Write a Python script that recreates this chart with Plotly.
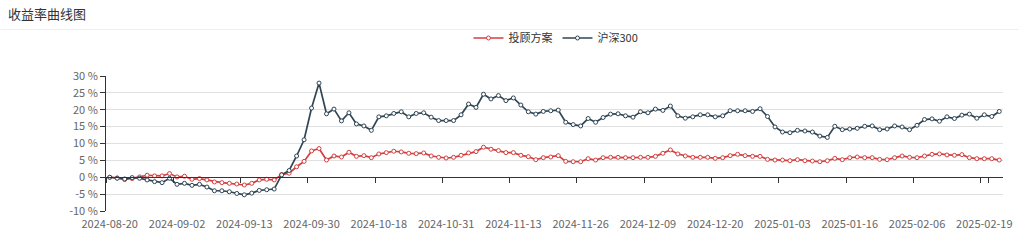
import plotly.graph_objects as go

# ---- data -------------------------------------------------------------
dates = [
    "2024-08-20", "2024-08-21", "2024-08-22", "2024-08-23", "2024-08-26", "2024-08-27", "2024-08-28", "2024-08-29", "2024-08-30",
    "2024-09-02", "2024-09-03", "2024-09-04", "2024-09-05", "2024-09-06", "2024-09-09", "2024-09-10", "2024-09-11", "2024-09-12",
    "2024-09-13", "2024-09-18", "2024-09-19", "2024-09-20", "2024-09-23", "2024-09-24", "2024-09-25", "2024-09-26", "2024-09-27",
    "2024-09-30", "2024-10-08", "2024-10-09", "2024-10-10", "2024-10-11", "2024-10-14", "2024-10-15", "2024-10-16", "2024-10-17",
    "2024-10-18", "2024-10-21", "2024-10-22", "2024-10-23", "2024-10-24", "2024-10-25", "2024-10-28", "2024-10-29", "2024-10-30",
    "2024-10-31", "2024-11-01", "2024-11-04", "2024-11-05", "2024-11-06", "2024-11-07", "2024-11-08", "2024-11-11", "2024-11-12",
    "2024-11-13", "2024-11-14", "2024-11-15", "2024-11-18", "2024-11-19", "2024-11-20", "2024-11-21", "2024-11-22", "2024-11-25",
    "2024-11-26", "2024-11-27", "2024-11-28", "2024-11-29", "2024-12-02", "2024-12-03", "2024-12-04", "2024-12-05", "2024-12-06",
    "2024-12-09", "2024-12-10", "2024-12-11", "2024-12-12", "2024-12-13", "2024-12-16", "2024-12-17", "2024-12-18", "2024-12-19",
    "2024-12-20", "2024-12-23", "2024-12-24", "2024-12-25", "2024-12-26", "2024-12-27", "2024-12-30", "2024-12-31", "2025-01-02",
    "2025-01-03", "2025-01-06", "2025-01-07", "2025-01-08", "2025-01-09", "2025-01-10", "2025-01-13", "2025-01-14", "2025-01-15",
    "2025-01-16", "2025-01-17", "2025-01-20", "2025-01-21", "2025-01-22", "2025-01-23", "2025-01-24", "2025-01-27", "2025-02-05",
    "2025-02-06", "2025-02-07", "2025-02-10", "2025-02-11", "2025-02-12", "2025-02-13", "2025-02-14", "2025-02-17", "2025-02-18",
    "2025-02-19", "2025-02-20", "2025-02-21",
]

advisory = [  # 投顾方案 (%)
    0.0, -0.2, -0.7, -0.4, 0.1, 0.6, 0.4, 0.4, 1.1, 0.1,
    0.3, -0.6, -0.4, -0.8, -1.4, -1.6, -1.8, -2.0, -2.3, -1.8,
    -0.8, -0.6, -0.8, 0.8, 1.2, 3.1, 4.7, 7.8, 8.5, 5.1,
    6.3, 6.0, 7.4, 6.2, 6.4, 5.8, 6.9, 7.3, 7.7, 7.5,
    7.1, 7.0, 7.2, 6.3, 5.9, 5.7, 5.9, 6.5, 7.2, 7.6,
    8.9, 8.3, 7.9, 7.3, 7.3, 6.5, 6.1, 5.2, 5.8, 6.0,
    6.4, 4.7, 4.6, 4.6, 5.5, 5.1, 5.8, 5.9, 5.9, 5.8,
    5.8, 5.9, 5.9, 6.2, 7.1, 8.1, 6.9, 6.3, 5.9, 5.9,
    5.9, 5.6, 5.8, 6.4, 6.8, 6.4, 6.2, 6.2, 5.3, 5.1,
    5.1, 4.9, 5.2, 4.9, 4.8, 4.6, 4.9, 5.6, 5.2, 5.8,
    6.0, 5.8, 5.8, 5.3, 5.2, 5.8, 6.3, 5.9, 5.8, 6.3,
    6.8, 6.9, 6.6, 6.5, 6.7, 5.8, 5.5, 5.5, 5.5, 5.1,
]

hs300 = [  # 沪深300 (%)
    0.0, -0.3, -0.5, -0.1, -0.3, -0.8, -1.3, -1.6, -0.3, -2.1,
    -1.8, -2.4, -2.1, -2.9, -4.0, -4.0, -4.3, -4.8, -5.2, -4.7,
    -3.9, -3.7, -3.5, 0.7, 2.0, 6.3, 11.1, 20.5, 27.9, 18.8,
    20.2, 16.7, 19.1, 15.8, 15.2, 13.9, 17.9, 18.2, 18.9, 19.4,
    17.9, 18.9, 19.1, 17.8, 16.8, 16.8, 16.8, 18.5, 21.7, 20.7,
    24.6, 23.2, 24.2, 22.7, 23.5, 21.4, 19.4, 18.7, 19.5, 19.7,
    19.9, 16.3, 15.6, 15.2, 17.4, 16.3, 17.7, 18.7, 18.8, 18.2,
    17.8, 19.4, 19.1, 20.2, 19.8, 21.1, 18.2, 17.5, 17.9, 18.5,
    18.5, 17.9, 18.2, 19.7, 19.7, 19.7, 19.5, 20.3, 18.0, 14.9,
    13.4, 13.2, 13.9, 13.7, 13.4, 12.2, 11.8, 15.1, 14.1, 14.3,
    14.5, 15.1, 15.2, 14.1, 14.3, 15.2, 14.9, 14.1, 15.4, 17.1,
    17.3, 16.6, 17.9, 17.4, 18.4, 18.7, 17.5, 18.5, 18.0, 19.5,
]

series_names = ["投顾方案", "沪深300"]
y_ticks = [-10, -5, 0, 5, 10, 15, 20, 25, 30]
y_tick_text = [f"{v} %" for v in y_ticks]
x_tick_labels = dates[::9]

# ---- style --------------------------------------------------------------
W, H = 1024, 243
ML, MR, MT, MB = 106, 16, 76, 29
RED = "#d43f3f"
DARK = "#2f4554"
FONT = "Noto Sans CJK SC, Open Sans, sans-serif"

fig = go.Figure()
for name, vals, col in [(series_names[0], advisory, RED), (series_names[1], hs300, DARK)]:
    fig.add_trace(go.Scatter(
        x=dates, y=vals, name=name, mode="lines+markers",
        line=dict(color=col, width=1.7),
        marker=dict(symbol="circle", size=4, color="white", line=dict(color=col, width=1)),
    ))

# helper trace for the axis line drawn at y = 0
fig.add_trace(go.Scatter(x=dates, y=[None] * len(dates), xaxis="x2",
                         showlegend=False, hoverinfo="skip", mode="lines"))

ymin, ymax = y_ticks[0], y_ticks[-1]
plot_h = H - MT - MB

fig.update_layout(
    width=W, height=H,
    margin=dict(l=ML, r=MR, t=MT, b=MB),
    paper_bgcolor="white", plot_bgcolor="white",
    font=dict(family=FONT, size=11, color="#666"),
    title=dict(text="收益率曲线图", x=8 / W, xanchor="left", xref="container",
               y=1 - 14 / H, yanchor="middle", yref="container",
               font=dict(family=FONT, size=13, color="#333")),
    legend=dict(orientation="h", x=556 / W, xanchor="center", xref="container",
                y=1 - 38 / H, yanchor="middle", yref="container",
                font=dict(family=FONT, size=11, color="#333"),
                itemwidth=30, bgcolor="rgba(0,0,0,0)"),
    showlegend=True,
    xaxis=dict(type="category", categoryarray=dates, categoryorder="array",
               range=[-0.5, len(dates) - 0.5],
               tickvals=x_tick_labels, ticks="outside", ticklen=3,
               tickcolor="rgba(0,0,0,0)", showline=False, showgrid=False,
               zeroline=False, tickfont=dict(size=11, color="#666")),
    xaxis2=dict(type="category", categoryarray=dates, categoryorder="array",
                range=[-0.5, len(dates) - 0.5], overlaying="x", anchor="free",
                position=(0 - ymin) / (ymax - ymin), side="bottom",
                tickvals=x_tick_labels, tickson="boundaries",
                ticks="outside", ticklen=5, tickcolor="#333",
                showline=True, linecolor="#333", linewidth=1,
                showticklabels=False, showgrid=False, zeroline=False),
    yaxis=dict(range=[ymin, ymax], tickvals=y_ticks, ticktext=y_tick_text,
               showgrid=True, gridcolor="#e0e0e0", gridwidth=1,
               showline=True, linecolor="#333", linewidth=1,
               ticks="outside", ticklen=5, tickcolor="#333",
               zeroline=False, tickfont=dict(size=11, color="#666")),
    shapes=[dict(type="line", xref="paper", yref="paper",
                 x0=-ML / (W - ML - MR), x1=1 + MR / (W - ML - MR),
                 y0=(H - MB - 28.5) / plot_h, y1=(H - MB - 28.5) / plot_h,
                 line=dict(color="#eeeeee", width=1))],
)

fig.write_html("out.html")
